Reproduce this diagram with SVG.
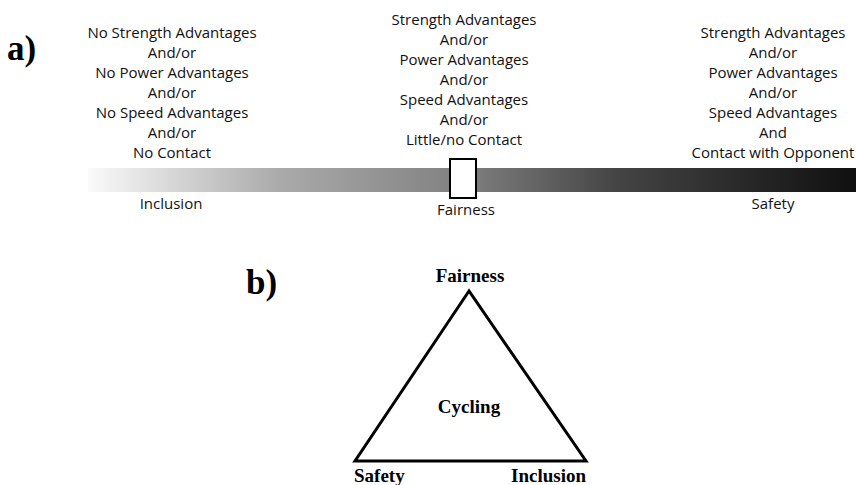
<svg xmlns="http://www.w3.org/2000/svg" width="856" height="485" viewBox="0 0 856 485">
<style>
.s{font-family:"Open Sans","Noto Sans",sans-serif;font-size:15px;fill:#111;text-anchor:middle}
.b{font-family:"Liberation Serif","Times New Roman",serif;font-weight:bold;fill:#000}
.t{font-size:19px}
.p{font-size:35px}
</style>
<defs>
<linearGradient id="g" x1="88" y1="0" x2="856" y2="0" gradientUnits="userSpaceOnUse">
<stop offset="0" stop-color="#fafafa"/>
<stop offset="0.25" stop-color="#aaaaaa"/>
<stop offset="0.49" stop-color="#808080"/>
<stop offset="0.69" stop-color="#444444"/>
<stop offset="1" stop-color="#101010"/>
</linearGradient>
</defs>
<rect width="856" height="485" fill="#fff"/>
<g id="panel-a">
<text class="b p" x="7" y="60">a)</text>
<g id="bar">
<rect x="88" y="168" width="768" height="24" fill="url(#g)"/>
</g>
<g id="col-left">
<text class="s" x="172" y="38">No Strength Advantages</text>
<text class="s" x="172" y="58">And/or</text>
<text class="s" x="172" y="78">No Power Advantages</text>
<text class="s" x="172" y="98">And/or</text>
<text class="s" x="172" y="118">No Speed Advantages</text>
<text class="s" x="172" y="138">And/or</text>
<text class="s" x="172" y="158">No Contact</text>
<text class="s" x="171" y="209">Inclusion</text>
</g>
<g id="col-center">
<text class="s" x="464" y="25">Strength Advantages</text>
<text class="s" x="464" y="45">And/or</text>
<text class="s" x="464" y="65">Power Advantages</text>
<text class="s" x="464" y="85">And/or</text>
<text class="s" x="464" y="105">Speed Advantages</text>
<text class="s" x="464" y="125">And/or</text>
<text class="s" x="464" y="145">Little/no Contact</text>
<rect x="450" y="159" width="26" height="39" fill="#fff" stroke="#000" stroke-width="2"/>
<text class="s" x="466" y="215">Fairness</text>
</g>
<g id="col-right">
<text class="s" x="773" y="38">Strength Advantages</text>
<text class="s" x="773" y="58">And/or</text>
<text class="s" x="773" y="78">Power Advantages</text>
<text class="s" x="773" y="98">And/or</text>
<text class="s" x="773" y="118">Speed Advantages</text>
<text class="s" x="773" y="138">And</text>
<text class="s" x="773" y="158">Contact with Opponent</text>
<text class="s" x="773" y="209">Safety</text>
</g>
</g>
<g id="panel-b">
<text class="b p" x="246" y="294">b)</text>
<g id="connectors">
<polygon points="469,291 355,461 586,461" fill="none" stroke="#000" stroke-width="3" stroke-linejoin="miter"/>
</g>
<g id="node-fairness"><text class="b t" x="470" y="282" text-anchor="middle">Fairness</text></g>
<g id="node-cycling"><text class="b t" x="469" y="413" text-anchor="middle">Cycling</text></g>
<g id="node-safety"><text class="b t" x="354" y="482">Safety</text></g>
<g id="node-inclusion"><text class="b t" x="586" y="482" text-anchor="end">Inclusion</text></g>
</g>
</svg>
